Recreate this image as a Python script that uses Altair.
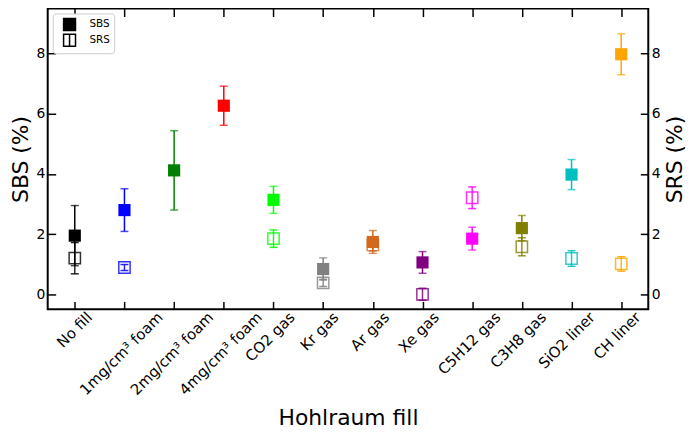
import altair as alt
import pandas as pd

categories = ["No fill", "1mg/cm³ foam", "2mg/cm³ foam", "4mg/cm³ foam", "CO2 gas", "Kr gas",
              "Ar gas", "Xe gas", "C5H12 gas", "C3H8 gas", "SiO2 liner", "CH liner"]
colors = ["black", "blue", "green", "red", "lime", "gray",
          "chocolate", "purple", "magenta", "olive", "#00BFBF", "orange"]
sbs = [1.95, 2.80, 4.12, 6.27, 3.14, 0.84, 1.74, 1.06, 1.85, 2.20, 3.98, 7.98]
sbs_err = [1.00, 0.71, 1.32, 0.65, 0.45, 0.37, 0.38, 0.36, 0.38, 0.42, 0.50, 0.68]
srs = [1.20, 0.89, None, None, 1.85, 0.38, 1.64, 0.00, 3.21, 1.58, 1.19, 1.01]
srs_err = [0.52, 0.10, None, None, 0.29, 0.12, 0.20, 0.20, 0.36, 0.30, 0.26, 0.24]

rows = []
for c, col, v, e in zip(categories, colors, sbs, sbs_err):
    rows.append(dict(cat=c, color=col, series="SBS", v=v, lo=v - e, hi=v + e))
for c, col, v, e in zip(categories, colors, srs, srs_err):
    if v is not None:
        rows.append(dict(cat=c, color=col, series="SRS", v=v, lo=v - e, hi=v + e))
df = pd.DataFrame(rows)

# horizontal shift of each rotated tick label so it is centred under its tick
label_shift = {"No fill": 14.5, "1mg/cm³ foam": 35.5, "2mg/cm³ foam": 36.5, "4mg/cm³ foam": 35.5,
               "CO2 gas": 18.5, "Kr gas": 12.5, "Ar gas": 13.5, "Xe gas": 13.5, "C5H12 gas": 25.5,
               "C3H8 gas": 21.5, "SiO2 liner": 20.5, "CH liner": 16.5}
label_offset = {"condition": [{"test": f"datum.value === '{k}'", "value": o}
                              for k, o in label_shift.items()], "value": 20}

xscale = alt.Scale(type="point", domain=categories, padding=0.545)
yscale = alt.Scale(domain=[-0.5, 9.5], nice=False, zero=False)

x_bottom = alt.X("cat:N", scale=xscale, axis=alt.Axis(
    orient="bottom", title="Hohlraum fill", labelAngle=315, labelAlign="right",
    labelBaseline="middle", labelPadding=5, labelOffset=label_offset, offset=-8,
    tickSize=8, domain=False, grid=False, labelFontSize=15, titleFontSize=22,
    labelOverlap=False, labelBound=False, labelFlush=False, titlePadding=10))
x_top = alt.X("cat:N", scale=xscale, axis=alt.Axis(
    orient="top", labels=False, title=None, offset=-8, tickSize=8, domain=False, grid=False))
x_none = alt.X("cat:N", scale=xscale, axis=None)

y_left = alt.Y("lo:Q", scale=yscale, axis=alt.Axis(
    orient="left", title="SBS (%)", values=[0, 2, 4, 6, 8], offset=-8, tickSize=8,
    domain=False, grid=False, labelPadding=3, labelFontSize=14, titleFontSize=22,
    titlePadding=3))
y_right = alt.Y("lo:Q", scale=yscale, axis=alt.Axis(
    orient="right", title="SRS (%)", values=[0, 2, 4, 6, 8], offset=-8, tickSize=8,
    domain=False, grid=False, labelPadding=3, labelFontSize=14, titleFontSize=22,
    titlePadding=5, titleAngle=270, titleBaseline="top"))

color = alt.Color("color:N", scale=None)
sbs_df = df[df.series == "SBS"]
srs_df = df[df.series == "SRS"]

sbs_rule = alt.Chart(sbs_df).mark_rule(strokeWidth=1.5).encode(
    x=x_bottom, y=y_left, y2="hi:Q", color=color)
sbs_cap_lo = alt.Chart(sbs_df).mark_tick(size=8, thickness=1.5).encode(
    x=x_none, y=alt.Y("lo:Q", scale=yscale, axis=None), color=color)
sbs_cap_hi = alt.Chart(sbs_df).mark_tick(size=8, thickness=1.5).encode(
    x=x_none, y=alt.Y("hi:Q", scale=yscale, axis=None), color=color)
sbs_pt = alt.Chart(sbs_df).mark_point(shape="square", filled=True, size=150, opacity=1).encode(
    x=x_none, y=alt.Y("v:Q", scale=yscale, axis=None), color=color)

srs_rule = alt.Chart(srs_df).mark_rule(strokeWidth=1.5, opacity=0.85).encode(
    x=x_top, y=y_right, y2="hi:Q", color=color)
srs_cap_lo = alt.Chart(srs_df).mark_tick(size=8, thickness=1.5, opacity=0.85).encode(
    x=x_none, y=alt.Y("lo:Q", scale=yscale, axis=None), color=color)
srs_cap_hi = alt.Chart(srs_df).mark_tick(size=8, thickness=1.5, opacity=0.85).encode(
    x=x_none, y=alt.Y("hi:Q", scale=yscale, axis=None), color=color)
srs_pt = alt.Chart(srs_df).mark_point(shape="square", filled=False, size=130,
                                      strokeWidth=1.5, opacity=0.8).encode(
    x=x_none, y=alt.Y("v:Q", scale=yscale, axis=None), color=color)

leg_df = pd.DataFrame({"series": ["SBS", "SRS"], "cat": [categories[0]] * 2, "v": [-5, -5]})
leg = alt.Legend(title=None, orient="top-left", offset=5, padding=4, symbolOffset=6,
                 labelOffset=13, rowPadding=-5, labelFontSize=10.5, fillColor="white",
                 strokeColor="#cccccc", cornerRadius=3, symbolStrokeWidth=1.5,
                 symbolSize=144)
legend_layer = alt.Chart(leg_df).mark_point(size=144, strokeWidth=1.5, opacity=1, clip=True).encode(
    x=x_none, y=alt.Y("v:Q", scale=yscale, axis=None),
    shape=alt.Shape("series:N", scale=alt.Scale(domain=["SBS", "SRS"],
                    range=["square", "M-1,-1H1V1H-1Z M0,-1V1"]), legend=leg),
    fill=alt.Fill("series:N", scale=alt.Scale(domain=["SBS", "SRS"], range=["black", "white"]), legend=leg),
    stroke=alt.Stroke("series:N", scale=alt.Scale(domain=["SBS", "SRS"], range=["black", "black"]), legend=leg),
)

chart = alt.layer(
    sbs_rule, sbs_cap_lo, sbs_cap_hi, sbs_pt,
    srs_rule, srs_cap_lo, srs_cap_hi, srs_pt, legend_layer
).resolve_axis(x="independent", y="independent").properties(
    width=605, height=303,
    padding={"left": 2, "top": -2, "right": 0, "bottom": 0},
).configure(font="DejaVu Sans").configure_view(
    stroke="black", strokeWidth=2
).configure_axis(
    tickColor="black", tickWidth=1.5, labelColor="black", titleColor="black",
    titleFontWeight="normal", labelFont="DejaVu Sans", titleFont="DejaVu Sans"
).configure_legend(labelFont="DejaVu Sans", labelColor="black")

chart.save("out.html", embed_options={"renderer": "svg", "actions": False})
